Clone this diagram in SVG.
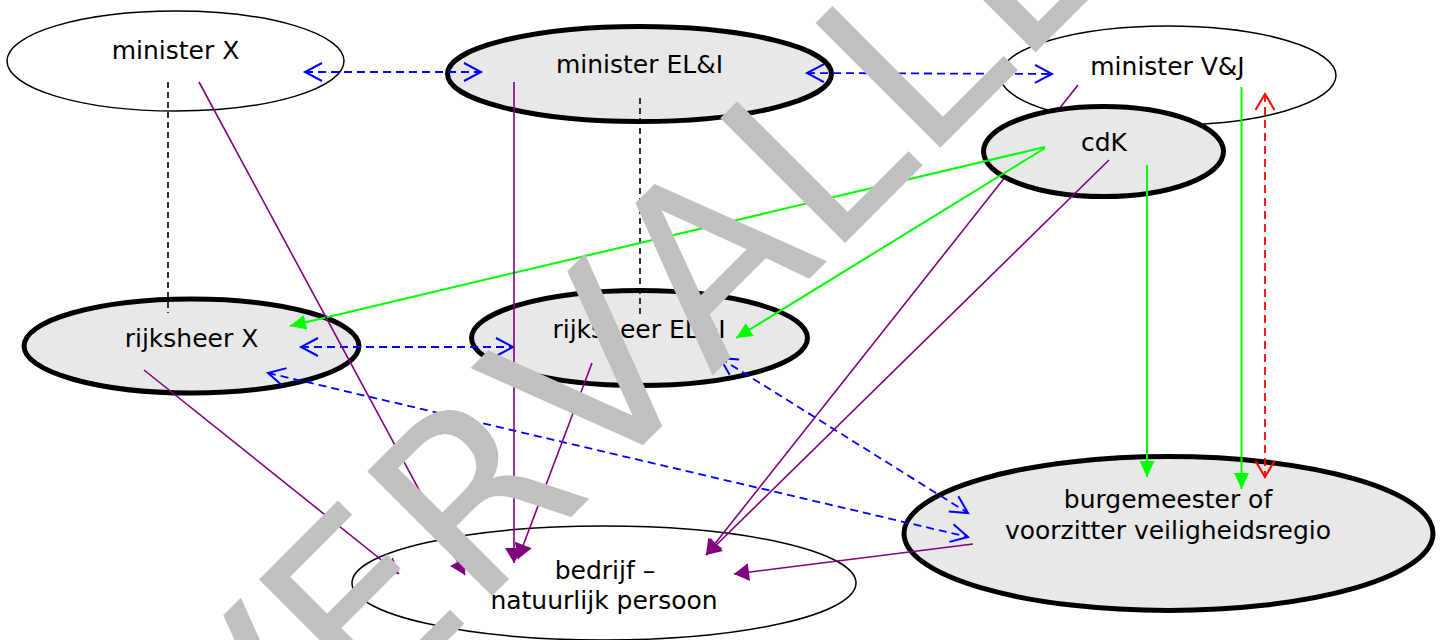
<svg xmlns="http://www.w3.org/2000/svg" width="1442" height="640" viewBox="0 0 1442 640">
<style>
.thin{fill:#ffffff;stroke:#000;stroke-width:1.5}
.thick{fill:#e8e8e8;stroke:#000;stroke-width:5}
.lbl{font-family:"DejaVu Sans",Verdana,sans-serif;font-size:25px;fill:#000;text-anchor:middle}
.blk{stroke:#000;stroke-width:1.6;stroke-dasharray:6,4;fill:none}
.blu{stroke:#0000ff;stroke-width:1.8;stroke-dasharray:8,5;fill:none;marker-start:url(#openBlue);marker-end:url(#openBlue)}
.red{stroke:#ff0000;stroke-width:1.8;stroke-dasharray:8,5;fill:none;marker-start:url(#openRed);marker-end:url(#openRed)}
.grn{stroke:#00ff00;stroke-width:2;fill:none;marker-end:url(#headGreen)}
.pur{stroke:#800080;stroke-width:1.6;fill:none;marker-end:url(#headPurple)}
.wm{font-family:"DejaVu Sans",Verdana,sans-serif;font-size:242px;fill:#c0c0c0;font-kerning:none}
</style>
<defs>
<marker id="openBlue" markerUnits="userSpaceOnUse" markerWidth="20" markerHeight="22" refX="17" refY="9" orient="auto-start-reverse" overflow="visible">
<path d="M0,0 L17,9 L0,18" fill="none" stroke="#0000ff" stroke-width="2" stroke-dasharray="none"/>
</marker>
<marker id="openRed" markerUnits="userSpaceOnUse" markerWidth="20" markerHeight="22" refX="16" refY="9.5" orient="auto-start-reverse" overflow="visible">
<path d="M0,0 L16,9.5 L0,19" fill="none" stroke="#ff0000" stroke-width="2" stroke-dasharray="none"/>
</marker>
<marker id="headGreen" markerUnits="userSpaceOnUse" markerWidth="18" markerHeight="16" refX="16" refY="7.5" orient="auto" overflow="visible">
<path d="M0,0 L16,7.5 L0,15 z" fill="#00ff00" stroke="none"/>
</marker>
<marker id="headPurple" markerUnits="userSpaceOnUse" markerWidth="18" markerHeight="20" refX="15" refY="9" orient="auto" overflow="visible">
<path d="M0,0 L15,9 L0,18 z" fill="#800080" stroke="none"/>
</marker>
</defs>

<g id="node-minister-x">
<ellipse class="thin" cx="175.5" cy="61" rx="168.5" ry="50"/>
<text class="lbl" x="175.5" y="59">minister X</text>
</g>
<g id="node-minister-eli">
<ellipse class="thick" cx="639.5" cy="74" rx="192" ry="47.5"/>
<text class="lbl" x="639.5" y="73">minister EL&amp;I</text>
</g>
<g id="node-minister-vj">
<ellipse class="thin" cx="1168" cy="75.5" rx="168" ry="49.5"/>
<text class="lbl" x="1167.5" y="75">minister V&amp;J</text>
</g>
<g id="node-rijksheer-x">
<ellipse class="thick" cx="191.5" cy="346" rx="167.5" ry="47"/>
<text class="lbl" x="191.5" y="347">rijksheer X</text>
</g>
<g id="node-rijksheer-eli">
<ellipse class="thick" cx="639.5" cy="338" rx="168" ry="47.5"/>
<text class="lbl" x="639" y="338">rijksheer EL&amp;I</text>
</g>
<g id="node-burgemeester">
<ellipse class="thick" cx="1168.5" cy="533.5" rx="264.5" ry="77"/>
<text class="lbl" x="1168" y="508">burgemeester of</text>
<text class="lbl" x="1168" y="539">voorzitter veiligheidsregio</text>
</g>
<g id="node-bedrijf">
<ellipse class="thin" cx="604" cy="583" rx="252" ry="57"/>
<text class="lbl" x="605" y="579">bedrijf –</text>
<text class="lbl" x="604" y="609">natuurlijk persoon</text>
</g>

<g id="connectors-behind-cdk">
<line class="pur" x1="1078" y1="85" x2="706" y2="555"/>
</g>

<g id="node-cdk">
<ellipse class="thick" cx="1103.5" cy="151.5" rx="120" ry="45"/>
<text class="lbl" x="1104" y="151">cdK</text>
</g>

<g id="connectors">
<line class="blk" x1="168" y1="82" x2="168" y2="313"/>
<line class="blk" x1="640" y1="98" x2="640" y2="315"/>
<line class="blu" x1="305" y1="72" x2="481" y2="72"/>
<line class="blu" x1="807" y1="73" x2="1052" y2="74"/>
<line class="blu" x1="301" y1="347" x2="513" y2="347"/>
<line class="blu" x1="268" y1="373" x2="968" y2="537"/>
<line class="blu" x1="720" y1="358" x2="968" y2="513"/>
<line class="grn" x1="1045" y1="147" x2="290" y2="326"/>
<line class="grn" x1="1045" y1="148" x2="736" y2="338"/>
<line class="grn" x1="1147" y1="165" x2="1147" y2="477"/>
<line class="grn" x1="1241.5" y1="87" x2="1241.5" y2="489"/>
<line class="red" x1="1265" y1="94" x2="1265" y2="477"/>
<line class="pur" x1="199" y1="82" x2="465" y2="575"/>
<line class="pur" x1="144" y1="370" x2="399" y2="574"/>
<line class="pur" x1="514" y1="82" x2="514" y2="563"/>
<line class="pur" x1="592" y1="363" x2="518" y2="559"/>
<line class="pur" x1="1109" y1="160" x2="706" y2="555"/>
<line class="pur" x1="973" y1="544" x2="734" y2="574"/>
</g>

<g id="watermark">
<text class="wm" x="0" y="0" transform="translate(250,838) rotate(-45)">VERVALLEN</text>
</g>
</svg>
